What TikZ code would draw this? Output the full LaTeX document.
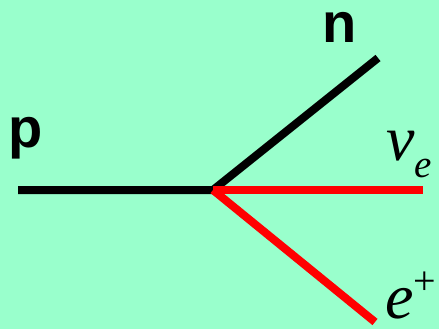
\documentclass[tikz,border=0pt]{standalone}
\usepackage{fontspec}
\setmainfont{Liberation Serif}
\newfontfamily\arialf{Liberation Sans}
\definecolor{bgc}{RGB}{153,255,204}
\definecolor{redc}{RGB}{255,0,0}
\tikzset{
  particle/.style={line width=8pt, line cap=butt, line join=miter},
  sanslabel/.style={anchor=base west, inner sep=0pt, font=\arialf\bfseries\fontsize{56}{56}\selectfont},
  seriflabel/.style={anchor=base west, inner sep=0pt, font=\itshape\fontsize{64}{64}\selectfont}
}
\begin{document}
\begin{tikzpicture}[x=1pt,y=-1pt]
\fill[bgc] (0,0) rectangle (439,329);
\useasboundingbox (0,0) rectangle (439,329);
\coordinate (pstart) at (18,190);
\coordinate (v) at (213,190);
\coordinate (nend) at (378,58);
\coordinate (nuend) at (423,190);
\coordinate (eend) at (375,322);
\draw[particle, black] (pstart) -- (v) -- (nend);
\draw[particle, redc] (v) -- (nuend);
\draw[particle, redc] (v) -- (eend);
\node[sanslabel] (plabel) at (8,147) {p};
\node[sanslabel] (nlabel) at (322,43) {n};
\node[seriflabel] (nulabel) at (386,160) {ν\raisebox{-17pt}{\fontsize{39}{39}\selectfont e}};
\node[seriflabel] (elabel) at (385,318) {e\raisebox{24pt}{\upshape\fontsize{40}{40}\selectfont +}};
\end{tikzpicture}
\end{document}
